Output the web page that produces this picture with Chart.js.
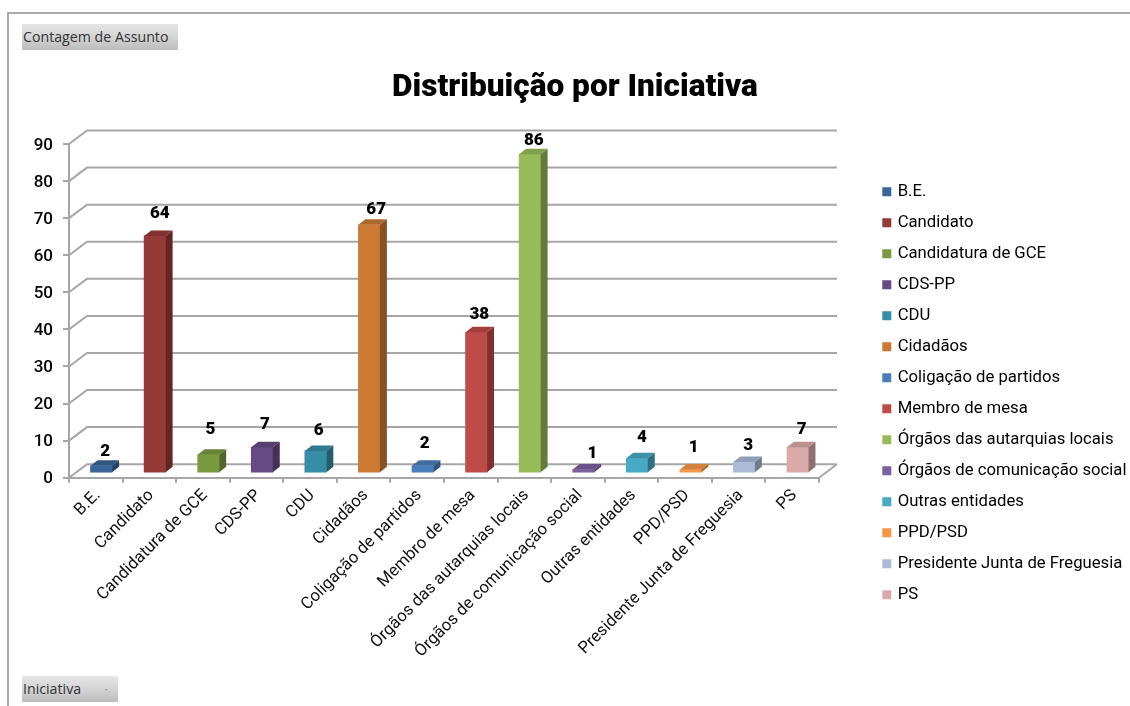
<!DOCTYPE html>
<html lang="pt">
<head>
<meta charset="utf-8">
<title>Distribuição por Iniciativa</title>
<script src="https://cdn.jsdelivr.net/npm/chart.js@4"></script>
<style>
  html, body { margin: 0; padding: 0; background: #fff; }
  body { position: relative; width: 1130px; height: 706px; overflow: hidden; }
  canvas { position: absolute; left: 0; top: 0; }
  .frame-top  { position: absolute; left: 7px; top: 12px; width: 1123px; height: 2px; background: #a9a9a9; }
  .frame-left { position: absolute; left: 7px; top: 12px; width: 2px; height: 694px; background: #a9a9a9; }
  .field-btn {
    position: absolute; left: 22px; height: 26px; color: #333;
    font: 14.2px/25px "Open Sans", sans-serif; padding-left: 1px; box-sizing: border-box;
    background: linear-gradient(#e6e6e6, #d2d2d2 55%, #bcbcbc);
  }
  .field-btn span { position: absolute; left: 83px; top: 0; color: #777; font-size: 11px; }
</style>
</head>
<body>
<canvas id="chart" width="1130" height="706"></canvas>
<div class="frame-top"></div>
<div class="frame-left"></div>
<div class="field-btn" style="top:24px;width:156px;">Contagem de Assunto</div>
<div class="field-btn" style="top:676px;width:96px;">Iniciativa<span>·</span></div>
<script>
const categories = ['B.E.', 'Candidato', 'Candidatura de GCE', 'CDS-PP', 'CDU', 'Cidadãos',
  'Coligação de partidos', 'Membro de mesa', 'Órgãos das autarquias locais',
  'Órgãos de comunicação social', 'Outras entidades', 'PPD/PSD',
  'Presidente Junta de Freguesia', 'PS'];
const values = [2, 64, 5, 7, 6, 67, 2, 38, 86, 1, 4, 1, 3, 7];
const yTicks = [0, 10, 20, 30, 40, 50, 60, 70, 80, 90];

const barColors = ['#3a6599', '#963a38', '#7a9a3f', '#664a86', '#358ea6', '#cc7a33', '#4a7ebb',
  '#be4b48', '#98bb59', '#7d60a0', '#46aac5', '#f79646', '#aabad7', '#d9aaa9'];
// the numbers over the bars are not placed regularly in the original
const labelLift = [14, 22, 24.5, 22, 20, 15, 22, 18, 14, 16, 21, 21.5, 16, 17];
const labelShift = [1, 2, -1, 0, 0, 4, -1, 0, 1, 6, 2, 0, 1, 1];

const FONT = 'Roboto, sans-serif';
const GRID = '#a6a6a6';
const DEPTH_X = 18, DEPTH_Y = 13.5;   // wall behind the front plane
const BAR_X = 5.5, BAR_Y = 4.5;       // bars stand a little back from the front edge
const SIDE_X = 7, SIDE_Y = 5.5;       // depth of a bar
const LEGEND_GAP = 51;

function shade(hex, f) {
  const n = parseInt(hex.slice(1), 16);
  const c = [n >> 16, (n >> 8) & 255, n & 255].map(v => Math.round(v * f));
  return `rgb(${c[0]},${c[1]},${c[2]})`;
}

/* ── WALL + FLOOR ── */
const wallPlugin = {
  id: 'wall',
  beforeDatasetsDraw(chart) {
    const { ctx, chartArea: a, scales: { y } } = chart;
    ctx.save();
    ctx.strokeStyle = GRID;
    ctx.lineWidth = 2;
    ctx.beginPath();
    yTicks.forEach(t => {
      const py = y.getPixelForValue(t);
      ctx.moveTo(a.left, py);
      ctx.lineTo(a.left + DEPTH_X, py - DEPTH_Y);
      ctx.lineTo(a.right + DEPTH_X, py - DEPTH_Y);
    });
    const base = y.getPixelForValue(0);
    ctx.moveTo(a.right, base);
    ctx.lineTo(a.right + DEPTH_X, base - DEPTH_Y);
    ctx.stroke();
    ctx.restore();
  }
};

/* ── 3D BARS: real bars moved back, with side and top faces added ── */
const depthPlugin = {
  id: 'depth',
  beforeDatasetDraw(chart) {
    chart.ctx.save();
    chart.ctx.translate(BAR_X, -BAR_Y);
  },
  afterDatasetDraw(chart, args) {
    const ctx = chart.ctx;
    args.meta.data.forEach((el, i) => {
      const l = el.x - el.width / 2, r = el.x + el.width / 2;
      ctx.fillStyle = shade(barColors[i], 0.85);
      ctx.beginPath();
      ctx.moveTo(l, el.y);
      ctx.lineTo(l + SIDE_X, el.y - SIDE_Y);
      ctx.lineTo(r + SIDE_X, el.y - SIDE_Y);
      ctx.lineTo(r, el.y);
      ctx.fill();
      ctx.fillStyle = shade(barColors[i], 0.66);
      ctx.beginPath();
      ctx.moveTo(r, el.y);
      ctx.lineTo(r + SIDE_X, el.y - SIDE_Y);
      ctx.lineTo(r + SIDE_X, el.base - SIDE_Y);
      ctx.lineTo(r, el.base);
      ctx.fill();
    });
    ctx.restore();
  },
  afterDatasetsDraw(chart) {
    const ctx = chart.ctx;
    ctx.save();
    ctx.font = `900 17px ${FONT}`;
    ctx.fillStyle = '#000';
    ctx.textAlign = 'center';
    ctx.textBaseline = 'middle';
    chart.getDatasetMeta(0).data.forEach((el, i) => {
      ctx.fillText(values[i], el.x + BAR_X + 3 + labelShift[i], el.y - BAR_Y - labelLift[i]);
    });
    ctx.restore();
  }
};

/* ── LEGEND PLACEMENT: keep the plot narrower than the legend alone would ── */
const legendPlugin = {
  id: 'legendPlace',
  beforeLayout(chart) {
    const lg = chart.legend;
    if (lg._patched) return;
    const fit = lg.fit;
    lg.fit = function () {
      fit.call(this);
      this.width = 311;
    };
    lg._patched = true;
  },
  afterLayout(chart) {
    const lg = chart.legend;
    lg.left = chart.chartArea.right + LEGEND_GAP;
    lg.top = 169;
  }
};

new Chart(document.getElementById('chart'), {
  type: 'bar',
  data: {
    labels: categories,
    datasets: [{ data: values, backgroundColor: barColors, borderWidth: 0, barThickness: 21.5, clip: false }]
  },
  plugins: [wallPlugin, depthPlugin, legendPlugin],
  options: {
    responsive: false,
    animation: false,
    layout: { padding: { left: 20, right: 0, top: 0, bottom: 0 } },
    plugins: {
      tooltip: { enabled: false },
      title: {
        display: true,
        text: 'Distribuição por Iniciativa',
        color: '#000',
        font: { family: FONT, size: 31.6, weight: '900' },
        padding: { top: 69, bottom: 37.1 }
      },
      legend: {
        position: 'right',
        align: 'start',
        labels: {
          font: { family: FONT, size: 16.7 },
          color: '#111',
          padding: 14.3,
          boxWidth: 5,
          boxHeight: 5,
          generateLabels: chart => chart.data.labels.map((text, i) => ({
            text,
            fillStyle: barColors[i],
            strokeStyle: barColors[i],
            lineWidth: 4,
            index: i
          }))
        }
      }
    },
    scales: {
      x: {
        grid: { offset: true, drawOnChartArea: false, color: GRID, lineWidth: 2, tickLength: 5 },
        border: { color: GRID, width: 2 },
        ticks: {
          color: '#111', autoSkip: false, minRotation: 45, maxRotation: 45, padding: 3, labelOffset: 2,
          font: { family: FONT, size: 16.7 }
        },
        afterFit: s => { s.height = 228.3; }
      },
      y: {
        min: 0,
        max: 90,
        afterBuildTicks: s => { s.ticks = yTicks.map(value => ({ value })); },
        grid: { drawOnChartArea: false, color: GRID, lineWidth: 2, tickLength: 6 },
        border: { color: GRID, width: 2 },
        ticks: { color: '#000', padding: 10, labelOffset: 1.5, font: { family: FONT, size: 17, weight: '500' } },
        afterFit: s => { s.width = 49; }
      }
    }
  }
});
</script>
</body>
</html>
